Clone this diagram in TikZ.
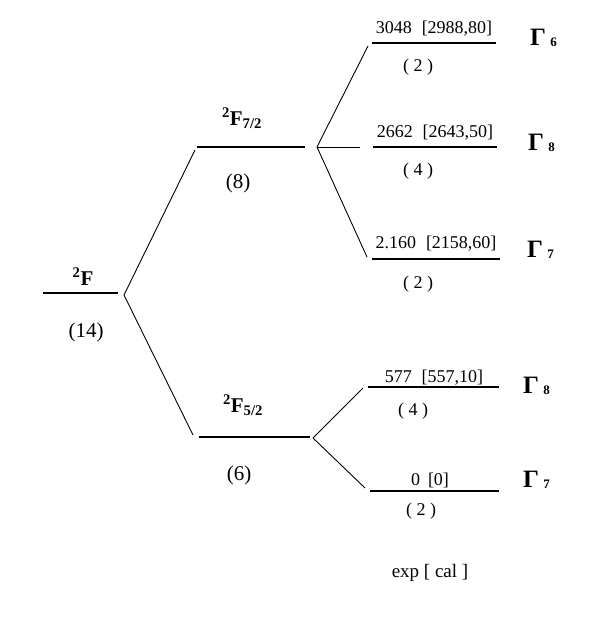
\documentclass[tikz,border=0pt]{standalone}
\usepackage{fontspec}
\setmainfont{Liberation Serif}
\newcommand{\fs}[1]{\fontsize{#1}{#1}\selectfont}

\begin{document}
\begin{tikzpicture}
  [x=1pt,y=-1pt,
   lev/.style={line width=1.3pt},
   con/.style={line width=.9pt},
   every node/.style={inner sep=0pt,anchor=base},
   term/.style={font=\fs{21}\bfseries},
   deg/.style={font=\fs{21}},
   sdeg/.style={font=\fs{18}},
   en/.style={font=\fs{18}},
   gam/.style={font=\fs{25}\bfseries,anchor=base west}]
  \useasboundingbox (0,0) rectangle (600,624);
  % levels
  \foreach \name/\xa/\xb/\y in {F/43/118/293,A/197/305/147,B/199/310/437,
      a1/372/496/43,a2/373/497/147,a3/372/500/259,b1/368/499/387,b2/370/499/491}
    \draw[lev] (\xa,\y) coordinate (\name) -- (\xb,\y);
  % splitting
  \coordinate (s0) at (124,295);
  \coordinate (s1) at (317,147);
  \coordinate (s2) at (313,438);
  \coordinate (c1) at (195,150);
  \coordinate (c2) at (193,435);
  \coordinate (c3) at (368,46);
  \coordinate (c4) at (360,147);
  \coordinate (c5) at (367,257);
  \coordinate (c6) at (363,388);
  \coordinate (c7) at (365,488);
  \foreach \from/\to in {s0/c1,s0/c2,s1/c3,s1/c4,s1/c5,s2/c6,s2/c7}
    \draw[con] (\from) -- (\to);
  % terms
  \node[term] (tF) at (83,285) {\textsuperscript{2}F};
  \node[deg] (dF) at (86,337) {(14)};
  \node[term] (tA) at (242,125) {\textsuperscript{2}F\textsubscript{7/2}};
  \node[deg] (dA) at (238,188) {(8)};
  \node[term] (tB) at (243,412) {\textsuperscript{2}F\textsubscript{5/2}};
  \node[deg] (dB) at (239,480) {(6)};
  % crystal field levels
  \node[en] (e1) at (434,33) {3048\hspace{10pt}[2988,80]};
  \node[sdeg] (d1) at (418,71) {( 2 )};
  \node[gam] (g1) at (530,45) {Γ\,\raisebox{-1.5pt}{\fs{13}6}};
  \node[en] (e2) at (435,137) {2662\hspace{10pt}[2643,50]};
  \node[sdeg] (d2) at (418,175) {( 4 )};
  \node[gam] (g2) at (528,150) {Γ\,\raisebox{-1.5pt}{\fs{13}8}};
  \node[en] (e3) at (436,248) {2.160\hspace{10pt}[2158,60]};
  \node[sdeg] (d3) at (418,288) {( 2 )};
  \node[gam] (g3) at (527,257) {Γ\,\raisebox{-1.5pt}{\fs{13}7}};
  \node[en] (e4) at (434,382) {577\hspace{10pt}[557,10]};
  \node[sdeg] (d4) at (413,415) {( 4 )};
  \node[gam] (g4) at (523,393) {Γ\,\raisebox{-1.5pt}{\fs{13}8}};
  \node[en] (e5) at (430,485) {0\hspace{8pt}[0]};
  \node[sdeg] (d5) at (421,515) {( 2 )};
  \node[gam] (g5) at (523,487) {Γ\,\raisebox{-1.5pt}{\fs{13}7}};
  \node[font=\fs{19}] (lg) at (430,577) {exp [ cal ]};
\end{tikzpicture}
\end{document}
